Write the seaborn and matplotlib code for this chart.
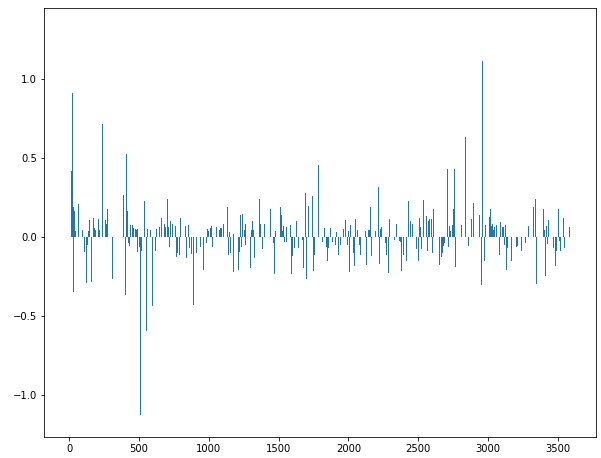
import matplotlib
matplotlib.use("Agg")
import matplotlib.pyplot as plt
import seaborn as sns
import pandas as pd

# positions (index) and values
positions = [
    17, 21, 28, 33, 40, 47, 64, 92, 107, 121, 128, 135, 143, 162, 176, 184, 191,
    212, 219, 239, 260, 270, 277, 308, 386, 404, 408, 415, 422, 429, 437, 451,
    458, 472, 480, 487, 489, 501, 508, 515, 537, 551, 558, 580, 594, 616, 624,
    649, 664, 685, 692, 702, 707, 714, 721, 728, 743, 764, 771, 778, 793, 800,
    831, 838, 852, 859, 874, 888, 910, 938, 961, 986, 993, 1001, 1015, 1022,
    1029, 1058, 1079, 1087, 1108, 1137, 1144, 1151, 1158, 1173, 1180, 1211,
    1218, 1230, 1237, 1244, 1252, 1259, 1266, 1300, 1305, 1312, 1319, 1328,
    1361, 1368, 1381, 1400, 1440, 1462, 1469, 1476, 1512, 1519, 1526, 1533,
    1540, 1555, 1557, 1583, 1591, 1598, 1612, 1626, 1641, 1672, 1677, 1691,
    1698, 1712, 1741, 1748, 1755, 1789, 1811, 1825, 1841, 1849, 1856, 1868,
    1889, 1904, 1911, 1932, 1940, 1966, 1981, 1995, 2002, 2008, 2016, 2038,
    2045, 2052, 2067, 2081, 2088, 2124, 2131, 2145, 2153, 2160, 2164, 2193,
    2214, 2221, 2229, 2236, 2264, 2272, 2286, 2293, 2332, 2347, 2363, 2370,
    2377, 2391, 2413, 2427, 2446, 2461, 2490, 2504, 2511, 2518, 2525, 2540,
    2561, 2563, 2575, 2583, 2597, 2604, 2611, 2654, 2669, 2676, 2683, 2689,
    2707, 2714, 2721, 2728, 2742, 2752, 2759, 2766, 2807, 2836, 2862, 2884,
    2898, 2941, 2955, 2962, 2977, 2984, 3013, 3020, 3027, 3033, 3039, 3044,
    3058, 3079, 3089, 3103, 3110, 3117, 3125, 3132, 3139, 3168, 3203, 3210,
    3239, 3268, 3289, 3325, 3340, 3347, 3395, 3402, 3409, 3416, 3423, 3431,
    3466, 3481, 3488, 3502, 3509, 3517, 3538, 3545, 3581,
]

values = [
    0.418, 0.911, -0.35, 0.19, 0.165, 0.038, 0.21, 0.042, -0.093, -0.295, -0.05,
    0.034, 0.105, -0.283, 0.116, 0.055, 0.042, 0.11, 0.042, 0.715, 0.105,
    0.084, 0.177, -0.27, 0.266, -0.37, 0.527, 0.165, -0.038, -0.055, 0.076,
    0.076, 0.055, 0.05, 0.046, 0.05, -0.093, -0.063, -1.127, -0.089, 0.224,
    -0.595, 0.05, 0.042, -0.435, -0.089, 0.05, 0.059, 0.118, 0.084, 0.059,
    0.097, 0.24, 0.059, -0.063, 0.097, 0.084, 0.068, -0.13, -0.105, -0.114,
    0.118, 0.068, -0.135, 0.072, -0.072, -0.11, -0.43, -0.10, -0.063, -0.207,
    -0.038, 0.05, 0.034, 0.055, 0.068, -0.063, 0.059, 0.046, 0.055, 0.084,
    0.19, -0.114, 0.03, -0.10, 0.017, -0.224, -0.207, -0.093, 0.135, -0.063,
    0.143, 0.046, -0.05, 0.08, -0.198, 0.046, 0.10, 0.046, -0.135, 0.24,
    0.084, -0.08, 0.08, 0.173, -0.038, -0.236, 0.034, 0.19, 0.135, 0.034,
    0.068, -0.03, 0.059, -0.03, 0.076, -0.236, -0.122, -0.072, 0.097, -0.068,
    -0.02, -0.198, 0.278, -0.27, 0.198, 0.257, -0.215, -0.118, 0.456, -0.03,
    0.055, -0.063, -0.156, -0.068, 0.055, -0.034, -0.05, 0.03, -0.118, -0.05,
    0.05, 0.105, -0.05, 0.034, -0.224, 0.072, -0.105, -0.186, 0.11, 0.042,
    -0.05, -0.118, 0.038, -0.177, 0.042, 0.042, 0.19, -0.122, 0.038, 0.316,
    -0.173, 0.05, 0.059, -0.042, -0.118, -0.232, 0.11, -0.02, 0.08, -0.025,
    -0.03, -0.215, -0.118, -0.152, 0.224, 0.10, 0.08, -0.076, -0.152, 0.122,
    0.059, -0.076, 0.236, 0.13, -0.089, 0.097, 0.11, 0.11, -0.10, 0.173,
    -0.177, -0.127, -0.10, -0.059, -0.042, 0.43, -0.063, 0.068, 0.038, 0.076,
    0.177, 0.43, -0.194, 0.076, 0.633, -0.055, 0.11, 0.215, 0.139, -0.304,
    1.114, -0.156, 0.076, 0.127, 0.177, 0.068, 0.084, 0.046, 0.059, 0.076,
    -0.118, 0.093, 0.063, 0.063, -0.05, 0.076, -0.211, -0.072, -0.156, -0.063,
    -0.055, -0.089, -0.042, 0.068, 0.186, 0.24, -0.30, 0.173, 0.046, -0.249,
    0.068, -0.046, 0.105, -0.068, -0.186, -0.089, 0.173, -0.025, -0.089,
    0.122, -0.068, 0.059,
]

df = pd.DataFrame({'pos': positions, 'val': values})

fig, ax = plt.subplots(figsize=(601 / 72, 458 / 72), dpi=72)
fig.subplots_adjust(left=0.073, right=0.992, top=0.983, bottom=0.046)

# numeric positions; bars about one pixel wide like the reference
sns.barplot(data=df, x='pos', y='val', native_scale=True, width=3.6,
            color='#1f77b4', saturation=1, errorbar=None, ax=ax)

ax.set_xlim(-182, 3775)
ax.set_ylim(-1.266, 1.449)
ax.set_xticks([0, 500, 1000, 1500, 2000, 2500, 3000, 3500])
ax.set_yticks([-1.0, -0.5, 0.0, 0.5, 1.0])
ax.set_xlabel('')
ax.set_ylabel('')

fig.savefig('out.png', dpi=72)
